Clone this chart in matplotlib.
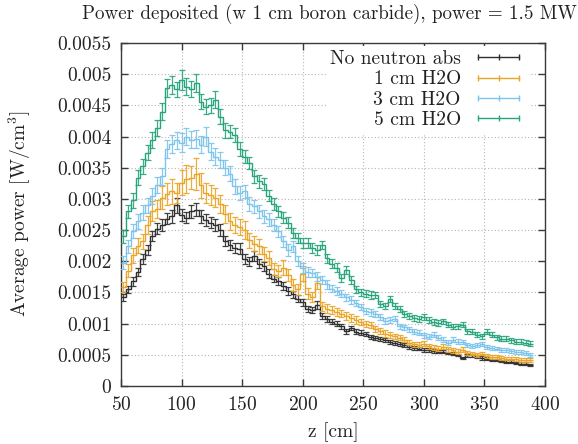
import numpy as np
import matplotlib
matplotlib.use("Agg")
import matplotlib.pyplot as plt
from matplotlib.ticker import MultipleLocator, FuncFormatter
from matplotlib.lines import Line2D

plt.rcParams["font.family"] = ["cmr10", "DejaVu Serif"]
plt.rcParams["mathtext.fontset"] = "cm"
plt.rcParams["axes.formatter.use_mathtext"] = True

# z bins (cm)
z_start, z_stop, n_bins = 50.0, 390.0, 85

# Average power per bin [W/cm^3]
no_abs = [
    0.00142, 0.00155, 0.00168, 0.00183, 0.00203, 0.00218, 0.00240, 0.00252, 0.00258, 0.00268,
    0.00272, 0.00290, 0.00274, 0.00270, 0.00280, 0.00283, 0.00272, 0.00266, 0.00262, 0.00258,
    0.00250, 0.00232, 0.00226, 0.00222, 0.00220, 0.00204, 0.00200, 0.00208, 0.00196, 0.00192,
    0.00180, 0.00172, 0.00168, 0.00160, 0.00152, 0.00147, 0.00140, 0.00134, 0.00124, 0.00122,
    0.00130, 0.00112, 0.00108, 0.00103, 0.00100, 0.00096, 0.00088, 0.00093, 0.00087, 0.00085,
    0.00083, 0.00079, 0.00077, 0.00075, 0.00074, 0.00071, 0.00069, 0.00067, 0.00066, 0.00063,
    0.00061, 0.00060, 0.00058, 0.00058, 0.00056, 0.00055, 0.00055, 0.00053, 0.00052, 0.00050,
    0.00045, 0.00049, 0.00049, 0.00047, 0.00045, 0.00044, 0.00042, 0.00042, 0.00040, 0.00039,
    0.00039, 0.00037, 0.00036, 0.00036, 0.00034,
]
h2o_1cm = [
    0.00158, 0.00185, 0.00210, 0.00225, 0.00232, 0.00258, 0.00280, 0.00284, 0.00302, 0.00308,
    0.00312, 0.00310, 0.00326, 0.00332, 0.00334, 0.00340, 0.00322, 0.00310, 0.00306, 0.00302,
    0.00292, 0.00276, 0.00264, 0.00258, 0.00255, 0.00250, 0.00234, 0.00228, 0.00224, 0.00212,
    0.00205, 0.00188, 0.00184, 0.00190, 0.00178, 0.00162, 0.00155, 0.00180, 0.00148, 0.00143,
    0.00165, 0.00128, 0.00124, 0.00122, 0.00119, 0.00116, 0.00112, 0.00109, 0.00106, 0.00103,
    0.00100, 0.00098, 0.00092, 0.00088, 0.00084, 0.00082, 0.00080, 0.00077, 0.00074, 0.00069,
    0.00067, 0.00066, 0.00068, 0.00064, 0.00061, 0.00060, 0.00063, 0.00059, 0.00057, 0.00055,
    0.00058, 0.00053, 0.00052, 0.00050, 0.00052, 0.00048, 0.00047, 0.00047, 0.00045, 0.00044,
    0.00044, 0.00043, 0.00042, 0.00042, 0.00042,
]
h2o_3cm = [
    0.00198, 0.00224, 0.00248, 0.00264, 0.00278, 0.00290, 0.00305, 0.00322, 0.00336, 0.00380,
    0.00388, 0.00394, 0.00390, 0.00400, 0.00395, 0.00396, 0.00387, 0.00400, 0.00376, 0.00368,
    0.00362, 0.00350, 0.00340, 0.00320, 0.00310, 0.00312, 0.00292, 0.00288, 0.00280, 0.00272,
    0.00267, 0.00258, 0.00248, 0.00232, 0.00218, 0.00224, 0.00200, 0.00189, 0.00183, 0.00181,
    0.00175, 0.00170, 0.00163, 0.00156, 0.00152, 0.00148, 0.00142, 0.00138, 0.00133, 0.00127,
    0.00120, 0.00118, 0.00116, 0.00111, 0.00104, 0.00106, 0.00108, 0.00096, 0.00094, 0.00091,
    0.00087, 0.00085, 0.00081, 0.00079, 0.00082, 0.00077, 0.00074, 0.00069, 0.00074, 0.00071,
    0.00070, 0.00066, 0.00064, 0.00066, 0.00067, 0.00063, 0.00061, 0.00060, 0.00058, 0.00058,
    0.00056, 0.00055, 0.00055, 0.00053, 0.00050,
]
h2o_5cm = [
    0.00240, 0.00280, 0.00298, 0.00334, 0.00352, 0.00374, 0.00395, 0.00414, 0.00440, 0.00478,
    0.00483, 0.00476, 0.00490, 0.00480, 0.00476, 0.00486, 0.00456, 0.00448, 0.00450, 0.00459,
    0.00432, 0.00410, 0.00408, 0.00403, 0.00380, 0.00368, 0.00358, 0.00336, 0.00328, 0.00324,
    0.00305, 0.00292, 0.00280, 0.00270, 0.00262, 0.00245, 0.00237, 0.00229, 0.00229, 0.00221,
    0.00218, 0.00226, 0.00205, 0.00196, 0.00190, 0.00173, 0.00186, 0.00170, 0.00155, 0.00150,
    0.00148, 0.00146, 0.00146, 0.00132, 0.00128, 0.00140, 0.00128, 0.00124, 0.00116, 0.00112,
    0.00109, 0.00108, 0.00111, 0.00106, 0.00103, 0.00101, 0.00104, 0.00098, 0.00095, 0.00096,
    0.00098, 0.00088, 0.00087, 0.00082, 0.00080, 0.00087, 0.00082, 0.00078, 0.00076, 0.00076,
    0.00073, 0.00071, 0.00071, 0.00069, 0.00068,
]

# Statistical uncertainty per bin, in units of 1e-5 W/cm^3
no_abs_err = [
    6, 6, 7, 7, 8, 8, 8, 9, 9, 9,
    10, 12, 10, 9, 10, 11, 10, 9, 9, 9,
    9, 8, 8, 8, 9, 8, 7, 8, 7, 7,
    7, 6, 6, 6, 6, 6, 6, 5, 5, 5,
    6, 5, 5, 4, 4, 4, 4, 4, 4, 4,
    3, 3, 3, 3, 3, 3, 3, 3, 3, 3,
    3, 3, 3, 3, 3, 2, 2, 2, 2, 2,
    2, 2, 2, 2, 3, 2, 2, 2, 2, 2,
    2, 2, 2, 2, 2,
]
h2o_1cm_err = [
    8, 10, 12, 12, 12, 14, 16, 15, 18, 18,
    20, 16, 20, 22, 18, 25, 20, 16, 16, 15,
    15, 14, 14, 13, 13, 14, 12, 12, 12, 11,
    11, 10, 10, 12, 10, 9, 9, 12, 9, 8,
    10, 7, 7, 7, 6, 6, 6, 6, 6, 5,
    5, 5, 5, 5, 5, 5, 4, 4, 4, 4,
    4, 4, 4, 4, 4, 4, 4, 4, 4, 4,
    4, 3, 3, 3, 3, 3, 3, 3, 3, 3,
    3, 3, 3, 3, 3,
]
h2o_3cm_err = [
    10, 10, 11, 12, 12, 12, 13, 13, 14, 14,
    14, 14, 15, 14, 14, 15, 14, 15, 13, 13,
    13, 12, 12, 12, 11, 11, 11, 10, 10, 10,
    10, 9, 9, 9, 9, 9, 8, 8, 8, 7,
    7, 7, 7, 6, 6, 6, 6, 6, 5, 5,
    5, 5, 5, 5, 5, 5, 4, 4, 4, 4,
    4, 4, 4, 4, 4, 4, 4, 4, 4, 4,
    3, 3, 3, 3, 3, 3, 3, 3, 3, 3,
    3, 3, 3, 3, 3,
]
h2o_5cm_err = [
    10, 11, 12, 12, 12, 12, 13, 13, 14, 14,
    14, 12, 16, 14, 13, 14, 12, 12, 12, 14,
    12, 12, 11, 11, 11, 10, 10, 10, 10, 10,
    9, 9, 9, 9, 9, 8, 8, 8, 8, 8,
    8, 7, 7, 7, 7, 7, 7, 6, 6, 6,
    6, 6, 5, 5, 5, 5, 5, 5, 5, 5,
    5, 5, 5, 5, 5, 5, 4, 4, 4, 4,
    4, 4, 4, 4, 4, 4, 4, 4, 4, 4,
    4, 4, 4, 4, 4,
]

labels = ["No neutron abs", "1 cm H2O", "3 cm H2O", "5 cm H2O"]
colors = ["#2e2e2e", "#eaa526", "#7cc4ec", "#27a47c"]
series = [no_abs, h2o_1cm, h2o_3cm, h2o_5cm]
errors = [no_abs_err, h2o_1cm_err, h2o_3cm_err, h2o_5cm_err]

edges = np.linspace(z_start, z_stop, n_bins + 1)
centers = 0.5 * (edges[:-1] + edges[1:])

fig = plt.figure(figsize=(5.78, 4.44), dpi=100)
ax = fig.add_axes([121 / 578, 1 - 386 / 444, 424 / 578, 343 / 444])

fs = 14
text_color = "#222222"

for vals, err, col in zip(series, errors, colors):
    vals = np.asarray(vals)
    err = np.asarray(err) * 1e-5
    ax.stairs(vals, edges, color=col, lw=1.0, baseline=None, zorder=3)
    ax.errorbar(centers, vals, yerr=err, fmt="none", ecolor=col,
                elinewidth=0.9, capsize=2.0, capthick=0.9, alpha=0.9, zorder=3)

ax.set_xlim(50, 400)
ax.set_ylim(0, 0.0055)
ax.xaxis.set_major_locator(MultipleLocator(50))
ax.yaxis.set_major_locator(MultipleLocator(0.0005))
ax.yaxis.set_major_formatter(FuncFormatter(lambda v, p: "%g" % round(v, 6)))

ax.grid(True, color="#b5b5b5", lw=0.8, linestyle=(0, (1, 2)), zorder=0)
ax.set_axisbelow(True)
for sp in ax.spines.values():
    sp.set_color("#3a3a3a")
    sp.set_linewidth(1.0)
ax.tick_params(direction="in", length=5, width=1.0, color="#3a3a3a",
               top=True, right=True, labelsize=fs, labelcolor=text_color, pad=7)

handles = [Line2D([], [], color=c, lw=1.0, marker="|", markersize=5, markeredgewidth=1.0)
           for c in colors]
leg = ax.legend(handles, labels, loc="upper right", bbox_to_anchor=(0.962, 0.99),
                markerfirst=False, numpoints=3,
                fontsize=fs, frameon=True, framealpha=1.0, facecolor="white",
                edgecolor="none", fancybox=False, handlelength=2.7, handletextpad=0.6,
                labelspacing=0.12, borderaxespad=0.0, borderpad=0.2)
for t in leg.get_texts():
    t.set_color(text_color)
leg.set_zorder(4)

fig.text(329 / 578, 1 - 14 / 444,
         "Power deposited (w 1 cm boron carbide), power = 1.5 MW",
         ha="center", va="center", fontsize=13.7, color=text_color)
fig.text(333 / 578, 1 - 432 / 444, "z [cm]", ha="center", va="center",
         fontsize=fs, color=text_color)
fig.text(20 / 578, 1 - 214 / 444, "Average power [W/cm$^3$]", ha="center",
         va="center", rotation=90, fontsize=fs, color=text_color)

fig.savefig("out.png", dpi=100)
